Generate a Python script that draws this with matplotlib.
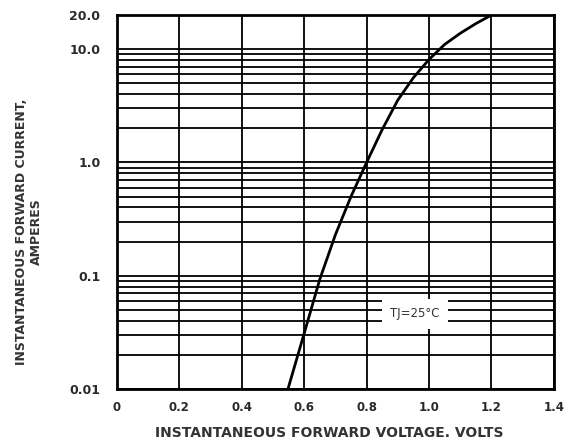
import numpy as np
import matplotlib.pyplot as plt
from matplotlib.ticker import FixedLocator, LogLocator, NullFormatter

# curve (volts, amperes)
volts = [0.548, 0.6, 0.65, 0.7, 0.75, 0.8, 0.85, 0.9, 0.95,
         1.0, 1.05, 1.1, 1.15, 1.2]
amps = [0.01, 0.031, 0.093, 0.23, 0.50, 1.0, 1.95, 3.55, 5.6,
        8.1, 11.0, 13.8, 16.8, 20.0]

x_ticks = [0, 0.2, 0.4, 0.6, 0.8, 1.0, 1.2, 1.4]
x_labels = ['0', '0.2', '0.4', '0.6', '0.8', '1.0', '1.2', '1.4']
y_ticks = [0.01, 0.1, 1.0, 10.0, 20.0]
y_labels = ['0.01', '0.1', '1.0', '10.0', '20.0']

plt.rcParams['font.family'] = ['DejaVu Sans']

fig = plt.figure(figsize=(5.68, 4.43), dpi=100)
ax = fig.add_axes([0.206, 0.122, 0.769, 0.844])

ax.set_yscale('log')
ax.set_xlim(0, 1.4)
ax.set_ylim(0.01, 20)

ax.xaxis.set_major_locator(FixedLocator(x_ticks))
ax.set_xticklabels(x_labels)
ax.yaxis.set_major_locator(FixedLocator(y_ticks))
ax.set_yticklabels(y_labels)
ax.yaxis.set_minor_locator(LogLocator(base=10, subs=np.arange(2, 10)))
ax.yaxis.set_minor_formatter(NullFormatter())

ax.grid(True, which='both', color='black', linewidth=1.3)
ax.tick_params(which='both', length=0, colors='#2a2a2a')
ax.tick_params(axis='x', labelsize=8.5, pad=9)
ax.tick_params(axis='y', labelsize=9, pad=12)
for lab in ax.get_xticklabels() + ax.get_yticklabels():
    lab.set_fontweight('bold')
for s in ax.spines.values():
    s.set_linewidth(2)

ax.plot(volts, amps, color='black', linewidth=2, zorder=3)

ax.text(0.955, 0.046, 'TJ=25°C', fontsize=8.5, ha='center', va='center', color='#333333',
        bbox=dict(facecolor='white', edgecolor='none', pad=6), zorder=4)

ax.set_xlabel('INSTANTANEOUS FORWARD VOLTAGE. VOLTS', fontsize=10, fontweight='bold',
              color='#333333')
ax.xaxis.set_label_coords(0.487, -0.1)
ax.set_ylabel('INSTANTANEOUS FORWARD CURRENT,\nAMPERES', fontsize=9, fontweight='bold',
              color='#333333', linespacing=1.25)
ax.yaxis.set_label_coords(-0.169, 0.42)

fig.savefig('out.png', dpi=100)
